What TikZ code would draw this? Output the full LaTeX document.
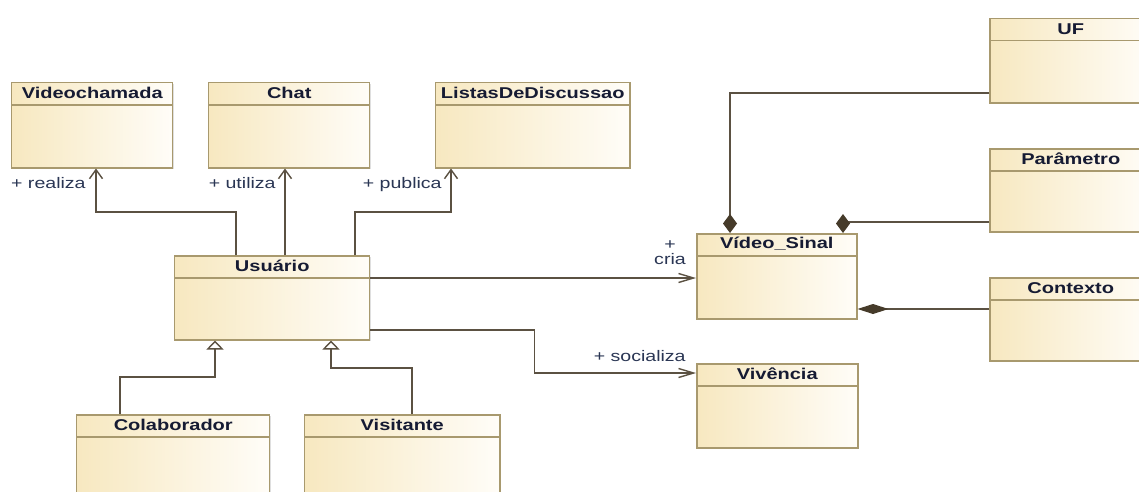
\documentclass[tikz,border=0pt]{standalone}
\usepackage{fontspec}
\newfontfamily\umlfont[FakeStretch=1.28]{Liberation Sans}
\usetikzlibrary{arrows.meta,calc,positioning,shadows}

\newcommand{\pxu}{0.02cm}
\definecolor{classfill}{HTML}{F7E8C0}
\definecolor{classfillr}{HTML}{FFFDF8}
\definecolor{classborder}{HTML}{A8996E}
\definecolor{linkcol}{HTML}{5B5142}
\definecolor{diamcol}{HTML}{463B2A}
\definecolor{titlecol}{HTML}{161B33}
\definecolor{rolecol}{HTML}{2A3654}

\tikzset{
  umlclass/.style={rectangle, draw=classborder, line width=0.85pt,
    left color=classfill, right color=classfillr,
    drop shadow={shadow xshift=1.5*\pxu, shadow yshift=-1.5*\pxu, opacity=0.25},
    anchor=north west, minimum width=161*\pxu, minimum height=85*\pxu, inner sep=0pt,
    path picture={\draw[classborder, line width=0.85pt]
      ([yshift=-22*\pxu]path picture bounding box.north west) --
      ([yshift=-22*\pxu]path picture bounding box.north east);},
    label={[classtitle]90:#1}},
  classtitle/.style={anchor=center, yshift=-11*\pxu, inner sep=0pt,
    font=\umlfont\fontsize{8.9}{10}\selectfont\bfseries, text=titlecol},
  rolelabel/.style={inner sep=0pt, font=\umlfont\fontsize{8.7}{8.5}\selectfont, text=rolecol},
  link/.style={draw=linkcol, line width=0.8pt},
  navig/.style={link, -{Straight Barb[length=9*\pxu, width=13*\pxu]}},
  navigh/.style={link, -{Straight Barb[length=15*\pxu, width=9*\pxu]}},
  generaliz/.style={link, -{Triangle[open, length=9*\pxu, width=17*\pxu, fill=white]}},
  compos/.style={link, -{Diamond[length=19*\pxu, width=14*\pxu, fill=diamcol, color=diamcol]}},
  composh/.style={link, -{Diamond[length=31*\pxu, width=10*\pxu, fill=diamcol, color=diamcol]}}
}

\begin{document}
\begin{tikzpicture}[x=\pxu, y=-\pxu]
  \fill[white] (0,0) rectangle (1139,491);
  \useasboundingbox (0,0) rectangle (1139,491);

  % classes
  \node[umlclass=Videochamada] (vch) at (11,82) {};
  \node[umlclass=Chat] (chat) at (208,82) {};
  \node[umlclass=ListasDeDiscussao, minimum width=194*\pxu] (lst) at (435,82) {};
  \node[umlclass=Usuário, minimum width=195*\pxu, minimum height=84*\pxu] (usr) at (174,255) {};
  \node[umlclass=Colaborador, minimum width=193*\pxu, minimum height=100*\pxu] (colab) at (76,414) {};
  \node[umlclass=Visitante, minimum width=195*\pxu, minimum height=100*\pxu] (visit) at (304,414) {};
  \node[umlclass=Vídeo\_Sinal, minimum width=160*\pxu] (vsin) at (696,233) {};
  \node[umlclass=Vivência, minimum height=84*\pxu] (viv) at (696,363) {};
  \node[umlclass=UF, minimum width=162*\pxu, minimum height=84*\pxu] (uf) at (989,18) {};
  \node[umlclass=Parâmetro, minimum width=162*\pxu, minimum height=83*\pxu] (param) at (989,148) {};
  \node[umlclass=Contexto, minimum width=162*\pxu, minimum height=83*\pxu] (ctx) at (989,277) {};

  % associations
  \draw[navig] ([xshift=62*\pxu]usr.north west) -- ++(0,-43) -| ([xshift=85*\pxu]vch.south west);
  \draw[navig] ([xshift=111*\pxu]usr.north west) -- ([xshift=77*\pxu]chat.south west);
  \draw[navig] ([xshift=181*\pxu]usr.north west) -- ++(0,-43) -| ([xshift=16*\pxu]lst.south west);
  \draw[navigh] ([yshift=-23*\pxu]usr.north east) -- ([yshift=-45*\pxu]vsin.north west);
  \draw[navigh] ([yshift=-75*\pxu]usr.north east) -- ++(164,0) |- ([yshift=-10*\pxu]viv.north west);

  % generalizations
  \draw[generaliz] ([xshift=44*\pxu]colab.north west) -- ++(0,-37) -| ([xshift=41*\pxu]usr.south west);
  \draw[generaliz] ([xshift=108*\pxu]visit.north west) -- ++(0,-46) -| ([xshift=157*\pxu]usr.south west);

  % compositions
  \draw[compos] ([yshift=-75*\pxu]uf.north west) -| ([xshift=34*\pxu]vsin.north west);
  \draw[compos] ([yshift=-74*\pxu]param.north west) -| ([xshift=147*\pxu]vsin.north west);
  \draw[composh] ([yshift=-32*\pxu]ctx.north west) -- ([yshift=-76*\pxu]vsin.north east);

  % role names
  \node[rolelabel, anchor=base east] (lrea) at (86,188) {+ realiza};
  \node[rolelabel, anchor=base east] (luti) at (276,188) {+ utiliza};
  \node[rolelabel, anchor=base east] (lpub) at (442,188) {+ publica};
  \node[rolelabel, align=center] (lcri) at (670,253) {+\\cria};
  \node[rolelabel, anchor=base east] (lsoc) at (686,361) {+ socializa};
\end{tikzpicture}
\end{document}
